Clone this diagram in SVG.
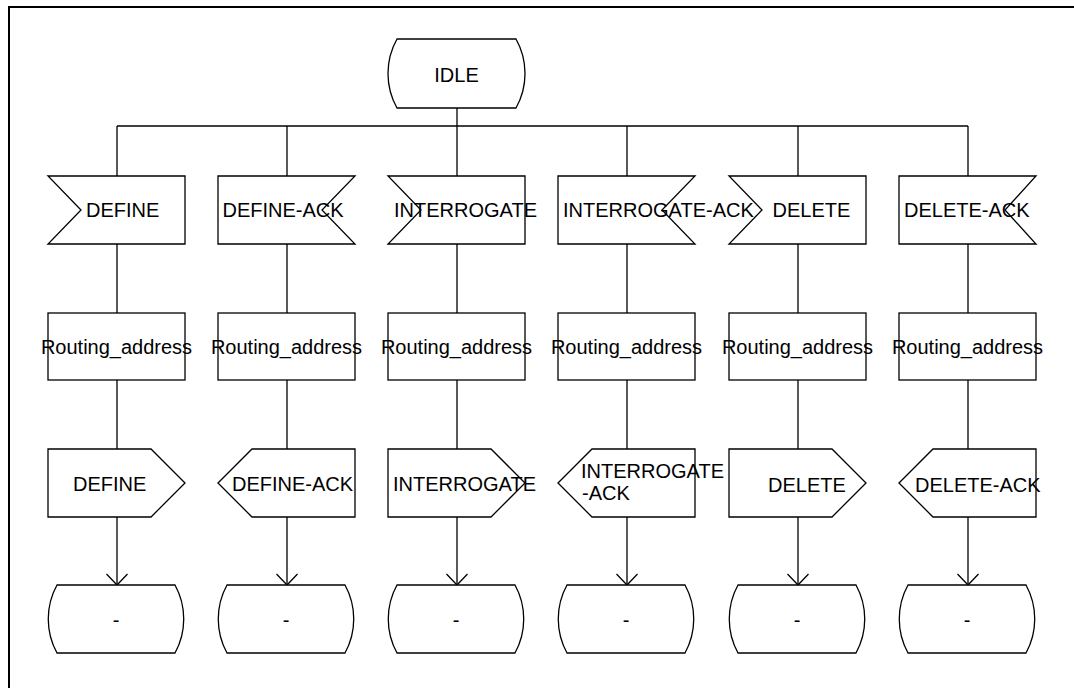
<svg xmlns="http://www.w3.org/2000/svg" width="1074" height="688" viewBox="0 0 1074 688">
  <style>
    .shape { fill: #ffffff; stroke: #000000; stroke-width: 1.3; }
    .wire { fill: none; stroke: #000000; stroke-width: 1.3; }
    .lbl { font-family: "Liberation Sans", Arial, sans-serif; font-size: 20px; fill: #000000; }
    .mid { text-anchor: middle; }
  </style>
  <defs>
    <marker id="arrow" markerUnits="userSpaceOnUse" viewBox="-13 -12 14 24" markerWidth="14" markerHeight="24" refX="0" refY="0" orient="auto" overflow="visible">
      <path d="M -11,-10.5 L 0,0 L -11,10.5" fill="none" stroke="#000000" stroke-width="1.3"/>
    </marker>
  </defs>

  <rect width="1074" height="688" fill="#ffffff"/>
  <!-- page frame -->
  <path d="M 9,688 V 7 H 1074" fill="none" stroke="#000000" stroke-width="2"/>

  <!-- connectors -->
  <g id="connectors" class="wire">
    <path d="M 457,108 V 126"/>
    <path d="M 117,126 H 968"/>
    <path d="M 117,126 V 176 M 117,244 V 313 M 117,380 V 449"/>
    <path d="M 287,126 V 176 M 287,244 V 313 M 287,380 V 449"/>
    <path d="M 457,126 V 176 M 457,244 V 313 M 457,380 V 449"/>
    <path d="M 627,126 V 176 M 627,244 V 313 M 627,380 V 449"/>
    <path d="M 798,126 V 176 M 798,244 V 313 M 798,380 V 449"/>
    <path d="M 968,126 V 176 M 968,244 V 313 M 968,380 V 449"/>
    <path d="M 117,517 V 585" marker-end="url(#arrow)"/>
    <path d="M 287,517 V 585" marker-end="url(#arrow)"/>
    <path d="M 457,517 V 585" marker-end="url(#arrow)"/>
    <path d="M 627,517 V 585" marker-end="url(#arrow)"/>
    <path d="M 798,517 V 585" marker-end="url(#arrow)"/>
    <path d="M 968,517 V 585" marker-end="url(#arrow)"/>
  </g>

  <!-- start state -->
  <g id="state-idle">
    <path class="shape" d="M 397,39 H 516 A 70.6,70.6 0 0 1 516,108 H 397 A 70.6,70.6 0 0 1 397,39 Z"/>
    <text class="lbl mid" x="456.5" y="82">IDLE</text>
  </g>

  <!-- input signals -->
  <g id="in-define">
    <path class="shape" d="M 48,176 H 185 V 244 H 48 L 81,210 Z"/>
    <text class="lbl" x="86" y="217">DEFINE</text>
  </g>
  <g id="in-define-ack">
    <path class="shape" d="M 218,176 H 355 L 322,210 L 355,244 H 218 Z"/>
    <text class="lbl" x="222.5" y="217">DEFINE-ACK</text>
  </g>
  <g id="in-interrogate">
    <path class="shape" d="M 388,176 H 525 V 244 H 388 L 421,210 Z"/>
    <text class="lbl" x="394" y="217">INTERROGATE</text>
  </g>
  <g id="in-interrogate-ack">
    <path class="shape" d="M 558,176 H 695 L 662,210 L 695,244 H 558 Z"/>
    <text class="lbl" x="563" y="217">INTERROGATE-ACK</text>
  </g>
  <g id="in-delete">
    <path class="shape" d="M 729,176 H 866 V 244 H 729 L 762,210 Z"/>
    <text class="lbl" x="772.5" y="217">DELETE</text>
  </g>
  <g id="in-delete-ack">
    <path class="shape" d="M 899,176 H 1036 L 1005,210 L 1036,244 H 899 Z"/>
    <text class="lbl" x="904" y="217">DELETE-ACK</text>
  </g>

  <!-- tasks -->
  <g id="task-1">
    <rect class="shape" x="48" y="313" width="137" height="67"/>
    <text class="lbl mid" x="116.5" y="354">Routing_address</text>
  </g>
  <g id="task-2">
    <rect class="shape" x="218" y="313" width="137" height="67"/>
    <text class="lbl mid" x="286.5" y="354">Routing_address</text>
  </g>
  <g id="task-3">
    <rect class="shape" x="388" y="313" width="137" height="67"/>
    <text class="lbl mid" x="456.5" y="354">Routing_address</text>
  </g>
  <g id="task-4">
    <rect class="shape" x="558" y="313" width="137" height="67"/>
    <text class="lbl mid" x="626.5" y="354">Routing_address</text>
  </g>
  <g id="task-5">
    <rect class="shape" x="729" y="313" width="137" height="67"/>
    <text class="lbl mid" x="797.5" y="354">Routing_address</text>
  </g>
  <g id="task-6">
    <rect class="shape" x="899" y="313" width="137" height="67"/>
    <text class="lbl mid" x="967.5" y="354">Routing_address</text>
  </g>

  <!-- output signals -->
  <g id="out-define">
    <path class="shape" d="M 48,449 H 151 L 185,483 L 151,517 H 48 Z"/>
    <text class="lbl" x="73" y="491">DEFINE</text>
  </g>
  <g id="out-define-ack">
    <path class="shape" d="M 218,483 L 252,449 H 355 V 517 H 252 Z"/>
    <text class="lbl" x="232" y="491">DEFINE-ACK</text>
  </g>
  <g id="out-interrogate">
    <path class="shape" d="M 388,449 H 491 L 525,483 L 491,517 H 388 Z"/>
    <text class="lbl" x="393" y="491">INTERROGATE</text>
  </g>
  <g id="out-interrogate-ack">
    <path class="shape" d="M 558,483 L 592,449 H 695 V 517 H 592 Z"/>
    <text class="lbl" x="581" y="478">INTERROGATE</text>
    <text class="lbl" x="582" y="500">-ACK</text>
  </g>
  <g id="out-delete">
    <path class="shape" d="M 729,449 H 832 L 866,483 L 832,517 H 729 Z"/>
    <text class="lbl" x="768" y="492">DELETE</text>
  </g>
  <g id="out-delete-ack">
    <path class="shape" d="M 899,483 L 933,449 H 1036 V 517 H 933 Z"/>
    <text class="lbl" x="915" y="492">DELETE-ACK</text>
  </g>

  <!-- next states -->
  <g id="state-next-1">
    <path class="shape" d="M 57,585 H 175 A 70.6,70.6 0 0 1 175,653 H 57 A 70.6,70.6 0 0 1 57,585 Z"/>
    <text class="lbl mid" x="116" y="627">-</text>
  </g>
  <g id="state-next-2">
    <path class="shape" d="M 227,585 H 345 A 70.6,70.6 0 0 1 345,653 H 227 A 70.6,70.6 0 0 1 227,585 Z"/>
    <text class="lbl mid" x="286" y="627">-</text>
  </g>
  <g id="state-next-3">
    <path class="shape" d="M 397,585 H 515 A 70.6,70.6 0 0 1 515,653 H 397 A 70.6,70.6 0 0 1 397,585 Z"/>
    <text class="lbl mid" x="456" y="627">-</text>
  </g>
  <g id="state-next-4">
    <path class="shape" d="M 567,585 H 685 A 70.6,70.6 0 0 1 685,653 H 567 A 70.6,70.6 0 0 1 567,585 Z"/>
    <text class="lbl mid" x="626" y="627">-</text>
  </g>
  <g id="state-next-5">
    <path class="shape" d="M 738,585 H 856 A 70.6,70.6 0 0 1 856,653 H 738 A 70.6,70.6 0 0 1 738,585 Z"/>
    <text class="lbl mid" x="797" y="627">-</text>
  </g>
  <g id="state-next-6">
    <path class="shape" d="M 908,585 H 1026 A 70.6,70.6 0 0 1 1026,653 H 908 A 70.6,70.6 0 0 1 908,585 Z"/>
    <text class="lbl mid" x="967" y="627">-</text>
  </g>
</svg>
